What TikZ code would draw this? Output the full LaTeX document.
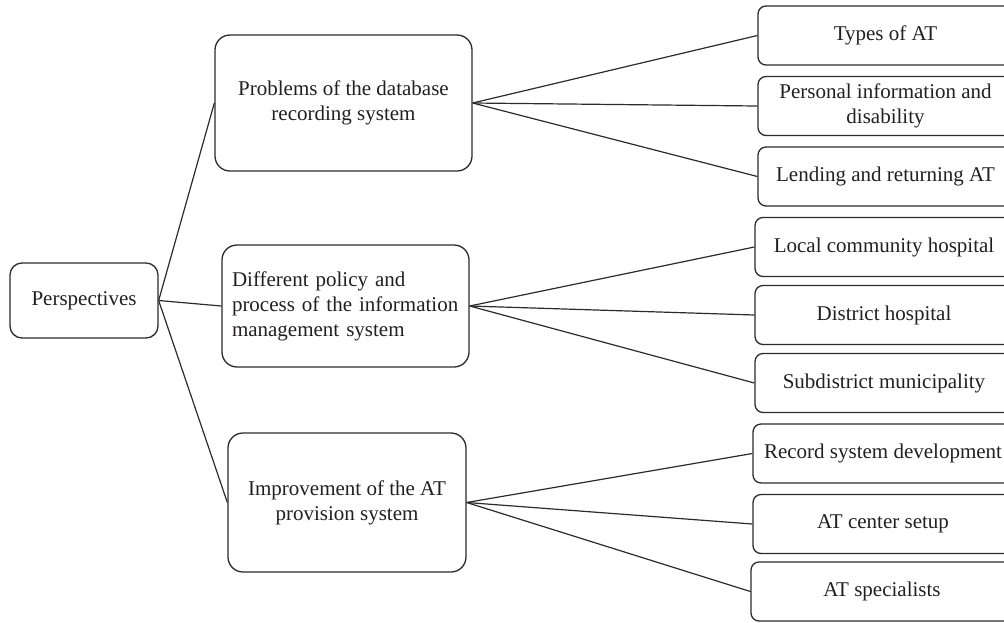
\documentclass[tikz,border=0pt]{standalone}
\usepackage{fontspec}
\setmainfont{Liberation Serif}
\definecolor{linec}{HTML}{2B2B2B}
\definecolor{txt}{HTML}{231F20}
\tikzset{
  boxbase/.style={draw=linec, line width=1.3pt, text=txt, inner sep=0pt,
    font=\fontsize{21}{25}\selectfont, align=center},
  bigbox/.style={boxbase, rounded corners=15pt},
  leafbox/.style={boxbase, rounded corners=8pt, minimum height=59pt},
  conn/.style={draw=linec, line width=1.2pt}
}
\begin{document}
\begin{tikzpicture}[x=1pt,y=-1pt]
\useasboundingbox (0,0) rectangle (1004,622);
\clip (0,0) rectangle (1004,622);
\node[boxbase, rounded corners=12pt, minimum width=148pt, minimum height=75pt] (P) at (84,300.5) {Perspectives};
\node[bigbox, minimum width=257pt, minimum height=136pt] (B1) at (343.5,103) {Problems of the database\\recording system};
\node[bigbox, minimum width=247pt, minimum height=122pt, text width=227pt, align=left] (B2) at (345.5,306) {Different policy and\\process of the information\\management system};
\node[bigbox, minimum width=238pt, minimum height=139pt] (B3) at (347,502.5) {Improvement of the AT\\provision system};
\node[leafbox, minimum width=255pt] (R1) at (885.5,35.5) {Types of AT};
\node[leafbox, minimum width=255pt] (R2) at (885.5,106) {Personal information and\\disability};
\node[leafbox, minimum width=255pt] (R3) at (885.5,176.5) {Lending and returning AT};
\node[leafbox, minimum width=258pt] (R4) at (884,247) {Local community hospital};
\node[leafbox, minimum width=258pt] (R5) at (884,315) {District hospital};
\node[leafbox, minimum width=258pt] (R6) at (884,383) {Subdistrict municipality};
\node[leafbox, minimum width=260pt] (R7) at (883,453.5) {Record system development};
\node[leafbox, minimum width=260pt] (R8) at (883,524) {AT center setup};
\node[leafbox, minimum width=262pt] (R9) at (882,591.5) {AT specialists};
\draw[conn] (P.east) -- (B1.west);
\draw[conn] (P.east) -- (B2.west);
\draw[conn] (P.east) -- (B3.west);
\foreach \r in {R1,R2,R3} \draw[conn] (B1.east) -- (\r.west);
\foreach \r in {R4,R5,R6} \draw[conn] (B2.east) -- (\r.west);
\foreach \r in {R7,R8,R9} \draw[conn] (B3.east) -- (\r.west);
\end{tikzpicture}
\end{document}
